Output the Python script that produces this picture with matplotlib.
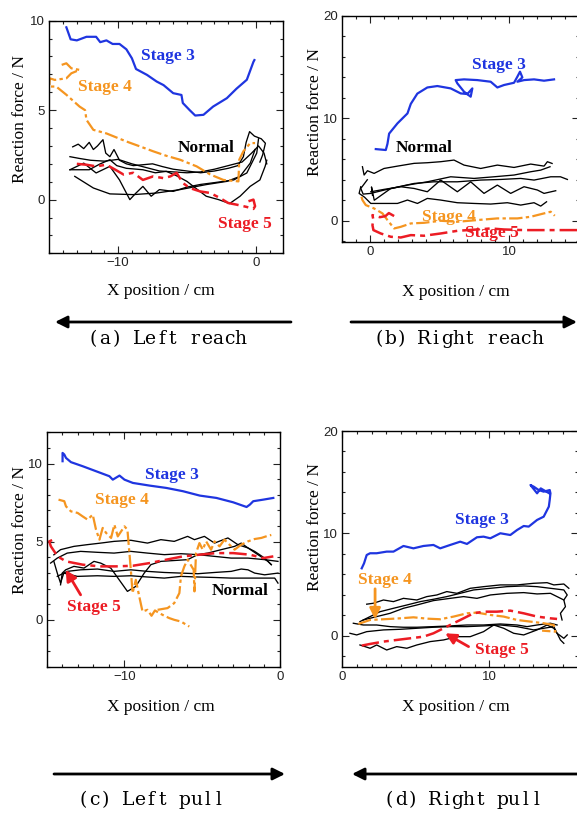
import matplotlib
matplotlib.use("Agg")
import matplotlib.pyplot as plt
from matplotlib.patches import FancyArrowPatch
from matplotlib.ticker import MultipleLocator

W, H = 577, 813
BLUE = '#1f35e0'
ORANGE = '#f59520'
RED = '#ec1c24'

# ---------------- (a) Left reach ----------------
a_s3_x = [-13.76, -13.45, -13.0, -12.3, -11.6, -11.3, -10.85, -10.4, -9.9, -9.4, -9.0, -8.7, -7.9, -7.2, -6.7, -6.0, -5.4, -5.3, -4.8, -4.4, -3.8, -3.1, -2.1, -1.4, -0.65, -0.17, -0.1]
a_s3_y = [9.63, 8.96, 8.9, 9.1, 9.1, 8.8, 8.9, 8.7, 8.7, 8.4, 7.9, 7.3, 6.97, 6.6, 6.4, 5.95, 5.85, 5.4, 5.0, 4.7, 4.74, 5.2, 5.67, 6.2, 6.7, 7.7, 7.8]
a_s4_x = [-14.1, -13.76, -13.4, -12.8, -13.4, -13.76, -14.6, -14.97, -15.0, -14.5, -13.76, -12.8, -12.4, -12.3, -11.8, -10.85, -9.4, -8.4, -7.45, -6.5, -5.5, -4.3, -3.3, -2.35, -1.26, -1.2, -0.9, -0.4, -0.05]
a_s4_y = [7.53, 7.62, 7.34, 7.25, 7.06, 6.78, 6.69, 6.78, 6.32, 6.32, 5.86, 5.2, 5.0, 4.46, 3.9, 3.7, 3.25, 2.97, 2.7, 2.45, 2.23, 1.86, 1.4, 1.1, 1.02, 2.23, 2.7, 3.16, 3.16]
a_s5_x = [-13.0, -12.3, -11.6, -10.85, -10.2, -9.6, -8.9, -8.2, -7.45, -6.7, -6.2, -5.75, -5.3, -4.8, -4.05, -3.3, -2.6, -2.0, -1.4, -0.65, -0.17, -0.05, -0.17, -0.53]
a_s5_y = [2.0, 1.95, 1.86, 1.95, 1.67, 1.4, 1.5, 1.1, 1.3, 1.2, 1.3, 1.5, 0.93, 0.65, 0.46, 0.37, 0.09, -0.19, -0.28, -0.41, -0.52, -0.37, 0.0, -0.09]
a_n1_x = [-13.3, -12.9, -12.5, -12.1, -11.8, -11.5, -11.1, -10.9, -10.6, -10.3, -9.9, -9.4, -8.9, -8.2, -7.5, -6.8, -6.0, -5.0, -4.0, -3.0, -2.0, -1.3, -0.9, -0.7, -0.45, -0.1, 0.4, 0.7, 0.5, 0.3]
a_n1_y = [2.95, 3.1, 2.85, 3.2, 2.8, 3.0, 3.35, 2.6, 2.4, 2.8, 2.2, 2.0, 1.9, 1.95, 2.0, 1.85, 1.7, 1.6, 1.5, 1.6, 1.75, 1.9, 2.4, 3.2, 3.8, 3.55, 3.4, 3.15, 2.5, 2.1]
a_n2_x = [-13.5, -12.8, -12.0, -11.0, -10.0, -9.0, -8.0, -7.0, -6.0, -5.0, -4.0, -3.0, -2.0, -1.0, -0.3, 0.2, 0.6, 0.8]
a_n2_y = [2.4, 2.3, 2.2, 2.15, 2.25, 2.0, 1.8, 1.6, 1.55, 1.5, 1.55, 1.7, 1.9, 2.1, 2.6, 3.0, 2.6, 2.0]
a_n3_x = [-13.5, -12.5, -11.6, -10.6, -9.9, -9.15, -8.7, -8.2, -7.6, -7.0, -6.0, -5.0, -4.0, -3.0, -1.6, -0.65, 0.07, 0.2]
a_n3_y = [1.67, 2.04, 1.49, 1.86, 1.1, 0.0, 0.37, 0.74, 0.19, 0.56, 0.46, 0.7, 0.85, 0.95, 1.1, 1.49, 2.6, 3.4]
a_n4_x = [-13.15, -11.8, -10.6, -8.9, -7.2, -5.5, -3.6, -2.1, -1.14, -0.4, -0.05]
a_n4_y = [1.3, 0.65, 0.32, 0.28, 0.37, 0.56, 0.84, 1.02, 1.3, 2.04, 2.8]
a_n5_x = [-13.5, -12.1, -11.3, -10.6, -10.1, -9.4, -8.2, -7.3, -6.5, -5.8, -5.0, -4.3, -3.6, -2.7, -1.9, -1.14, -0.41, 0.3, 0.68, 0.8]
a_n5_y = [1.67, 1.67, 2.0, 2.23, 1.9, 1.75, 1.67, 1.5, 1.58, 1.35, 1.02, 0.6, 0.19, 0.0, -0.22, 0.19, 0.74, 1.1, 1.86, 2.2]

# ---------------- (b) Right reach ----------------
b_s3_x = [0.41, 1.13, 1.25, 1.37, 1.97, 2.69, 2.93, 3.4, 4.12, 4.84, 5.8, 6.52, 7.0, 7.36, 7.24, 6.76, 6.28, 6.16, 6.76, 7.72, 8.68, 9.16, 9.64, 10.36, 10.6, 10.79, 10.96, 10.6, 11.08, 11.8, 12.52, 13.24]
b_s3_y = [6.99, 6.9, 7.5, 8.5, 9.5, 10.47, 11.4, 12.4, 13.0, 13.14, 12.91, 12.42, 12.36, 12.91, 12.1, 12.59, 13.4, 13.72, 13.79, 13.72, 13.56, 13.0, 13.24, 13.46, 14.05, 14.54, 13.98, 13.56, 13.72, 13.79, 13.66, 13.79]
b_s4_x = [-0.62, -0.55, -0.31, 0.29, 0.89, 1.25, 1.73, 2.21, 2.93, 3.88, 5.08, 6.28, 7.72, 9.16, 10.6, 11.56, 12.52, 13.0, 13.29]
b_s4_y = [2.34, 2.02, 1.53, 1.2, 0.72, 0.07, -0.75, -0.59, -0.26, -0.2, 0.0, -0.1, 0.07, 0.23, 0.23, 0.39, 0.72, 0.88, 0.49]
b_s5_x = [1.73, 1.35, 1.1, 0.7, 0.17, 0.24, 0.17, 0.24, 0.77, 1.49, 2.21, 2.93, 3.88, 5.08, 6.28, 7.72, 8.68, 9.64, 11.08, 12.52, 13.96, 14.9]
b_s5_y = [0.46, 0.75, 0.45, 0.35, 0.55, 0.07, -0.42, -0.91, -1.24, -1.56, -1.63, -1.4, -1.46, -1.24, -0.98, -0.85, -0.75, -0.85, -0.91, -0.91, -0.91, -0.91]
b_n1_x = [-0.55, -0.43, -0.19, 0.29, 1.0, 1.97, 3.17, 4.12, 5.08, 6.04, 6.76, 7.96, 9.16, 10.36, 11.56, 12.52, 12.76, 13.1]
b_n1_y = [5.27, 4.46, 4.88, 4.62, 5.1, 5.33, 5.6, 5.66, 5.76, 5.92, 5.43, 5.1, 5.43, 5.2, 5.53, 5.33, 5.76, 5.59]
b_n2_x = [-0.2, -0.67, -0.5, 0.05, 1.0, 2.69, 4.12, 5.8, 7.48, 8.92, 10.36, 11.56, 12.28, 12.95]
b_n2_y = [4.0, 3.15, 2.6, 2.67, 2.99, 3.48, 3.8, 4.29, 4.13, 4.29, 4.46, 4.78, 4.94, 5.27]
b_n3_x = [0.17, 0.1, 0.3, 1.49, 3.17, 4.6, 6.28, 7.96, 9.4, 10.84, 11.8, 13.0, 13.7, 14.2]
b_n3_y = [2.5, 3.3, 2.0, 3.15, 3.64, 3.8, 3.8, 3.97, 4.03, 4.13, 3.97, 4.29, 4.29, 4.03]
b_n4_x = [0.05, 1.0, 2.2, 3.17, 4.12, 5.08, 6.28, 7.24, 8.2, 9.16, 10.12, 11.08, 12.04, 12.52, 13.36]
b_n4_y = [2.83, 3.06, 3.32, 3.15, 2.83, 3.97, 2.83, 3.8, 2.67, 3.48, 2.67, 3.32, 3.0, 2.67, 2.93]
b_n5_x = [-0.67, -0.79, -0.4, 0.05, 1.0, 1.97, 2.69, 3.41, 4.12, 5.08, 6.28, 7.48, 8.68, 9.88, 10.84, 11.8, 12.28, 12.7]
b_n5_y = [3.32, 2.67, 2.3, 1.69, 1.69, 1.69, 2.02, 1.69, 2.18, 2.02, 1.76, 1.69, 1.63, 1.76, 1.53, 1.76, 1.43, 1.85]

# ---------------- (c) Left pull ----------------
c_s3_x = [-13.98, -13.98, -13.87, -13.76, -13.44, -12.69, -11.83, -10.97, -10.75, -10.32, -10.0, -9.46, -8.39, -7.31, -6.24, -5.16, -4.09, -3.01, -2.15, -1.94, -1.72, -1.08, -0.43]
c_s3_y = [10.15, 10.68, 10.58, 10.36, 10.09, 9.83, 9.51, 9.19, 8.97, 9.23, 8.97, 8.76, 8.59, 8.44, 8.23, 7.95, 7.8, 7.52, 7.22, 7.37, 7.59, 7.69, 7.8]
c_s4_x = [-14.24, -13.87, -13.76, -13.44, -13.01, -12.69, -12.37, -12.04, -11.83, -11.61, -11.4, -11.18, -10.86, -10.65, -10.43, -10.0, -9.81, -9.59, -9.48, -9.27, -9.05, -8.84, -8.52, -8.26, -8.04, -7.76, -7.44, -7.12, -6.8, -6.37, -5.83]
c_s4_y = [7.69, 7.59, 7.26, 6.94, 6.84, 6.62, 6.41, 6.73, 5.77, 5.13, 5.88, 5.56, 5.24, 6.09, 5.34, 5.98, 5.77, 3.2, 1.71, 2.56, 1.5, 0.53, 0.64, 0.26, 0.6, 0.43, 0.26, 0.11, 0.0, -0.11, -0.43]
c_s4b_x = [-7.87, -7.23, -6.8, -6.47, -6.37, -6.15, -5.94, -5.55, -5.5, -5.4, -5.18, -4.97, -4.75, -4.43, -4.21, -3.89, -3.57, -3.25, -2.92, -2.49, -2.06, -1.63, -1.2, -0.77, -0.56]
c_s4b_y = [0.64, 0.75, 1.07, 1.71, 2.78, 3.42, 3.85, 3.2, 1.82, 4.27, 4.91, 4.49, 5.02, 4.49, 5.02, 4.7, 5.13, 4.81, 4.49, 4.81, 5.02, 5.17, 5.24, 5.38, 5.43]
c_s5_x = [-14.65, -14.84, -14.73, -14.3, -13.76, -12.69, -11.61, -10.54, -9.46, -8.39, -7.31, -6.24, -5.16, -4.09, -3.01, -1.94, -1.08, -0.43]
c_s5_y = [5.1, 5.02, 4.7, 4.06, 3.74, 3.53, 3.42, 3.42, 3.46, 3.63, 3.85, 4.06, 4.17, 4.27, 4.27, 4.17, 3.95, 4.06]
c_n1_x = [-14.54, -14.11, -13.25, -12.39, -11.53, -10.67, -9.59, -8.52, -7.66, -6.8, -5.94, -5.5, -4.86, -4.21, -3.35, -2.71, -2.06, -1.42, -0.77, -0.56]
c_n1_y = [4.16, 4.49, 4.7, 4.81, 4.91, 5.02, 5.09, 4.91, 5.13, 5.02, 5.34, 5.13, 5.34, 4.91, 5.24, 4.81, 4.6, 4.17, 3.74, 3.53]
c_n2_x = [-14.75, -14.32, -13.68, -12.82, -11.74, -10.67, -9.59, -8.52, -7.44, -6.37, -5.29, -4.21, -3.14, -2.06, -0.99, -0.13]
c_n2_y = [3.63, 3.95, 4.27, 4.38, 4.32, 4.27, 4.38, 4.27, 4.17, 4.23, 4.17, 4.06, 3.95, 3.95, 3.85, 3.74]
c_n3_x = [-14.11, -14.0, -13.78, -13.25, -12.6, -11.96, -11.53, -10.88, -10.34, -9.81, -9.27, -8.73, -8.3, -7.66, -5.94, -5.29, -4.65, -3.78, -2.92, -2.49, -2.06, -1.63, -0.99, -0.56]
c_n3_y = [2.24, 2.99, 3.2, 3.42, 3.31, 3.74, 3.63, 3.31, 2.56, 1.82, 2.14, 2.99, 3.53, 3.74, 3.85, 4.17, 4.27, 4.49, 4.7, 4.91, 4.6, 4.38, 3.95, 3.53]
c_n4_x = [-14.32, -13.68, -12.82, -11.74, -10.67, -9.59, -8.52, -7.44, -6.37, -5.29, -4.21, -3.14, -2.49, -2.06, -1.63, -0.99, -0.13]
c_n4_y = [2.78, 3.1, 3.2, 3.25, 3.1, 3.2, 3.1, 3.03, 2.99, 2.95, 3.03, 3.1, 3.25, 3.2, 2.99, 2.88, 2.99]
c_n5_x = [-14.54, -14.32, -14.11, -13.9, -13.03, -11.74, -10.67, -9.59, -8.52, -7.44, -6.37, -5.29, -4.21, -3.14, -2.06, -0.99, -0.34, -0.13]
c_n5_y = [3.74, 2.99, 2.35, 2.99, 2.78, 2.82, 2.78, 2.82, 2.74, 2.67, 2.78, 2.74, 2.71, 2.67, 2.67, 2.67, 2.67, 2.35]

# ---------------- (d) Right pull ----------------
d_s3_x = [1.32, 1.48, 1.55, 1.66, 1.89, 2.34, 3.02, 3.48, 4.16, 4.84, 5.52, 6.2, 6.66, 7.34, 8.02, 8.48, 9.16, 9.61, 10.07, 10.75, 11.43, 11.89, 12.34, 12.68, 13.25, 13.7, 14.05, 14.11, 14.16, 14.11, 13.7, 13.36, 13.02, 12.8, 13.25, 13.5, 14.1]
d_s3_y = [6.6, 7.09, 7.41, 7.9, 8.07, 8.07, 8.23, 8.23, 8.78, 8.55, 8.78, 8.88, 8.55, 8.88, 9.2, 8.98, 9.63, 9.69, 9.53, 10.02, 9.85, 10.34, 10.73, 10.67, 11.32, 11.64, 12.62, 13.27, 13.92, 14.24, 14.08, 14.24, 14.57, 14.73, 13.92, 14.4, 13.9]
d_s4_x = [1.09, 1.89, 2.8, 3.93, 4.84, 5.75, 6.66, 7.57, 8.48, 9.16, 10.07, 10.98, 11.89, 12.8, 13.7, 14.39, 14.5, 13.59]
d_s4_y = [1.17, 1.56, 1.63, 1.72, 1.82, 1.69, 1.63, 1.89, 2.21, 2.28, 2.05, 1.89, 1.56, 1.4, 1.24, 1.07, 0.42, 0.52]
d_s5_x = [1.32, 1.89, 2.8, 3.7, 4.61, 5.52, 6.2, 6.89, 7.57, 8.25, 8.93, 9.61, 10.52, 11.43, 12.34, 13.25, 14.16, 14.61]
d_s5_y = [-0.94, -0.78, -0.55, -0.39, -0.23, -0.07, 0.26, 0.75, 1.24, 1.72, 2.21, 2.37, 2.37, 2.47, 2.21, 1.89, 1.72, 1.66]
d_n1_x = [1.66, 2.11, 2.8, 3.48, 4.16, 5.07, 5.75, 6.43, 7.11, 7.8, 8.7, 9.61, 10.75, 11.89, 13.02, 13.93, 14.39, 15.07, 15.41]
d_n1_y = [3.1, 3.19, 3.51, 3.35, 3.67, 3.51, 3.84, 4.0, 4.33, 4.16, 4.65, 4.81, 4.98, 4.98, 5.14, 5.2, 4.98, 5.07, 4.65]
d_n2_x = [1.2, 1.89, 2.57, 3.48, 4.39, 5.3, 6.2, 7.11, 8.02, 8.93, 10.07, 11.2, 12.34, 13.25, 14.16, 15.07, 15.3, 15.07, 15.18, 14.84, 14.95]
d_n2_y = [1.4, 1.89, 2.37, 2.7, 3.02, 3.35, 3.58, 3.84, 4.16, 4.49, 4.65, 4.81, 4.88, 4.81, 4.65, 4.49, 4.0, 3.51, 2.86, 2.21, 1.56]
d_n3_x = [1.43, 2.34, 3.25, 4.16, 5.07, 6.2, 7.34, 8.25, 9.16, 10.07, 11.2, 12.34, 13.25, 14.16, 14.61, 15.07]
d_n3_y = [1.56, 1.89, 2.21, 2.7, 3.02, 3.45, 3.67, 3.84, 3.67, 4.0, 4.16, 4.23, 4.1, 4.16, 3.84, 3.51]
d_n4_x = [0.75, 1.43, 2.34, 3.25, 4.16, 5.07, 6.2, 7.34, 8.48, 9.61, 10.75, 11.89, 12.57, 13.25, 14.16, 14.61]
d_n4_y = [1.24, 1.07, 1.07, 0.91, 0.85, 0.85, 0.91, 0.98, 1.07, 1.07, 1.17, 1.07, 0.91, 1.07, 1.24, 1.07]
d_n5_x = [0.52, 0.98, 1.66, 2.8, 3.93, 5.07, 6.2, 7.34, 8.48, 9.61, 10.75, 11.89, 13.02, 13.7, 14.39, 14.61, 15.07, 15.3]
d_n5_y = [0.26, 0.1, 0.42, 0.59, 0.65, 0.75, 0.85, 0.91, 0.91, 0.98, 1.07, 0.91, 0.59, 0.75, 0.91, 0.26, -0.23, 0.1]
d_n6_x = [1.2, 1.89, 2.34, 3.02, 3.7, 4.39, 5.07, 5.98, 6.89, 7.8, 8.7, 9.61, 10.3, 10.98, 11.66, 12.34, 13.25, 13.93, 14.39, 14.61, 14.84, 15.07]
d_n6_y = [-0.88, -1.2, -0.88, -1.37, -1.04, -1.2, -0.88, -0.55, -0.39, -0.07, -0.07, 0.42, 1.07, 0.75, 0.26, 0.1, 0.59, 1.07, 0.75, 0.26, -0.39, -0.72]

captions = ['(a) Left reach', '(b) Right reach', '(c) Left pull', '(d) Right pull']

fig = plt.figure(figsize=(W / 100, H / 100), dpi=100)
fig.patch.set_facecolor('white')

TICKFONT = 'Liberation Sans'
LABFONT = 'Liberation Serif'


def make_ax(left, top, right, bottom, xlim, ylim, xmaj, ymaj, ymin):
    ax = fig.add_axes([left / W, 1 - bottom / H, (right - left) / W, (bottom - top) / H])
    ax.set_xlim(*xlim)
    ax.set_ylim(*ylim)
    ax.xaxis.set_major_locator(MultipleLocator(xmaj))
    ax.xaxis.set_minor_locator(MultipleLocator(1))
    ax.yaxis.set_major_locator(MultipleLocator(ymaj))
    ax.yaxis.set_minor_locator(MultipleLocator(ymin))
    ax.tick_params(which='both', direction='in', top=True, right=True, width=0.8, colors='#222222')
    ax.tick_params(which='major', length=5, labelsize=9.5, pad=3)
    ax.tick_params(which='minor', length=2.5)
    for lab in ax.get_xticklabels() + ax.get_yticklabels():
        lab.set_fontfamily(TICKFONT)
    for s in ax.spines.values():
        s.set_linewidth(1.0)
        s.set_color('black')
    return ax


def normals(ax, xs, ys):
    for x, y in zip(xs, ys):
        ax.plot(x, y, color='black', lw=0.95, solid_joinstyle='round')


def stage(ax, x, y, color, ls):
    if ls == 's3':
        ax.plot(x, y, color=color, lw=1.6)
    elif ls == 's4':
        ax.plot(x, y, color=color, lw=1.6, dashes=(6, 1.5, 1.5, 1.5))
    else:
        ax.plot(x, y, color=color, lw=1.8, dashes=(7, 2, 2, 2))


def lab(ax, x, y, s, color):
    ax.text(x, y, s, color=color, fontsize=12.5, fontweight='bold', fontfamily=LABFONT,
            ha='center', va='center')


# (a)
axa = make_ax(49.3, 20.7, 283.3, 253.3, (-15, 2), (-3, 10), 10, 5, 1)
normals(axa, [a_n1_x, a_n2_x, a_n3_x, a_n4_x, a_n5_x], [a_n1_y, a_n2_y, a_n3_y, a_n4_y, a_n5_y])
stage(axa, a_s4_x, a_s4_y, ORANGE, 's4')
stage(axa, a_s5_x, a_s5_y, RED, 's5')
stage(axa, a_s3_x, a_s3_y, BLUE, 's3')
lab(axa, -6.36, 8.0, 'Stage 3', BLUE)
lab(axa, -10.97, 6.28, 'Stage 4', ORANGE)
lab(axa, -3.57, 2.88, 'Normal', 'black')
lab(axa, -0.78, -1.39, 'Stage 5', RED)

# (b)
axb = make_ax(342.3, 15.7, 578.5, 242.3, (-2, 15), (-2.1, 20), 10, 10, 2)
normals(axb, [b_n1_x, b_n2_x, b_n3_x, b_n4_x, b_n5_x], [b_n1_y, b_n2_y, b_n3_y, b_n4_y, b_n5_y])
stage(axb, b_s4_x, b_s4_y, ORANGE, 's4')
stage(axb, b_s5_x, b_s5_y, RED, 's5')
stage(axb, b_s3_x, b_s3_y, BLUE, 's3')
lab(axb, 9.28, 15.2, 'Stage 3', BLUE)
lab(axb, 3.88, 7.06, 'Normal', 'black')
lab(axb, 5.68, 0.39, 'Stage 4', ORANGE)
lab(axb, 8.8, -1.24, 'Stage 5', RED)

# (c)
axc = make_ax(46.7, 432.3, 280, 666.7, (-15, 0), (-3, 12), 10, 5, 1)
normals(axc, [c_n1_x, c_n2_x, c_n3_x, c_n4_x, c_n5_x], [c_n1_y, c_n2_y, c_n3_y, c_n4_y, c_n5_y])
stage(axc, c_s4_x, c_s4_y, ORANGE, 's4')
stage(axc, c_s4b_x, c_s4b_y, ORANGE, 's4')
stage(axc, c_s5_x, c_s5_y, RED, 's5')
stage(axc, c_s3_x, c_s3_y, BLUE, 's3')
lab(axc, -6.92, 9.29, 'Stage 3', BLUE)
lab(axc, -10.15, 7.69, 'Stage 4', ORANGE)
lab(axc, -2.54, 1.82, 'Normal', 'black')
lab(axc, -11.96, 0.8, 'Stage 5', RED)
axc.annotate('', xy=(-13.78, 3.2), xytext=(-12.82, 1.6),
             arrowprops=dict(arrowstyle='-|>', color=RED, lw=2, mutation_scale=16, shrinkA=0, shrinkB=0))

# (d)
axd = make_ax(342.3, 431, 577.5, 666.7, (0, 16), (-3, 20), 10, 10, 2)
normals(axd, [d_n1_x, d_n2_x, d_n3_x, d_n4_x, d_n5_x, d_n6_x],
        [d_n1_y, d_n2_y, d_n3_y, d_n4_y, d_n5_y, d_n6_y])
stage(axd, d_s4_x, d_s4_y, ORANGE, 's4')
stage(axd, d_s5_x, d_s5_y, RED, 's5')
stage(axd, d_s3_x, d_s3_y, BLUE, 's3')
lab(axd, 9.5, 11.3, 'Stage 3', BLUE)
lab(axd, 2.91, 5.46, 'Stage 4', ORANGE)
lab(axd, 10.86, -1.37, 'Stage 5', RED)
axd.annotate('', xy=(2.23, 1.63), xytext=(2.23, 4.6),
             arrowprops=dict(arrowstyle='-|>', color=ORANGE, lw=2, mutation_scale=16, shrinkA=0, shrinkB=0))
axd.annotate('', xy=(7.0, 0.26), xytext=(8.59, -1.04),
             arrowprops=dict(arrowstyle='-|>', color=RED, lw=2, mutation_scale=16, shrinkA=0, shrinkB=0))

# axis labels
for (xc, yc) in [(20, 119), (315, 112), (20, 530), (315, 527)]:
    fig.text(xc / W, 1 - yc / H, 'Reaction force / N', rotation=90, ha='center', va='center',
             fontsize=12.5, fontfamily=LABFONT)
for (xc, yc) in [(161, 291), (456, 292), (161, 707), (456, 707)]:
    fig.text(xc / W, 1 - yc / H, 'X position / cm', ha='center', va='center',
             fontsize=12.5, fontfamily=LABFONT)

# direction arrows
for (x0, x1, y) in [(291, 55, 322), (351, 577, 322), (54, 285, 774), (577, 352, 774)]:
    fig.add_artist(FancyArrowPatch((x0 / W, 1 - y / H), (x1 / W, 1 - y / H), transform=fig.transFigure,
                                   arrowstyle='-|>', mutation_scale=18, lw=2, color='black',
                                   shrinkA=0, shrinkB=0))

# captions: evenly pitched characters (half-width serif look)
PITCH = 11.3
for (xc, yc), s in zip([(167, 339), (458, 339), (151, 800), (463, 800)], captions):
    n = len(s)
    x_start = xc - PITCH * (n - 1) / 2
    for i, ch in enumerate(s):
        if ch == ' ':
            continue
        fig.text((x_start + i * PITCH) / W, 1 - yc / H, ch, ha='center', va='center',
                 fontsize=13.5, fontfamily='DejaVu Serif')

fig.savefig('out.png', dpi=100)
